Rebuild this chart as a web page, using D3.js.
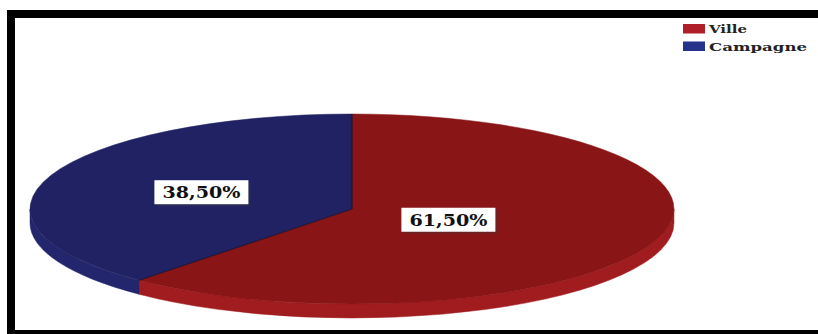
<!DOCTYPE html>
<html><head><meta charset="utf-8">
<script src="https://cdn.jsdelivr.net/npm/d3@7"></script>
<style>html,body{margin:0;padding:0;background:#fff;overflow:hidden}</style>
</head><body>
<svg id="c" width="818" height="334"></svg>
<script>
const categories = ["Ville", "Campagne"];
const values = [61.5, 38.5];
const valueLabels = ["61,50%", "38,50%"];

const topColors = ["#8a1517", "#212263"];
const sideColors = ["#a11c1f", "#23266c"];
const swatchColors = ["#b01e2a", "#26338a"];

const svg = d3.select("#c");
const cx = 352, cy = 209, rx = 322, ry = 95, depth = 14;

const pie = d3.pie().sort(null).value(d => d)(values);
const P = (a, dy = 0) => [cx + rx * Math.sin(a), cy - ry * Math.cos(a) + dy];

const g = svg.append("g");
pie.forEach((d, i) => {
  const s = Math.max(d.startAngle, Math.PI / 2), e = Math.min(d.endAngle, 3 * Math.PI / 2);
  if (e <= s) return;
  const p0 = P(s), p1 = P(e), q1 = P(e, depth), q0 = P(s, depth);
  const large = (e - s) > Math.PI ? 1 : 0;
  g.append("path")
    .attr("d", `M${p0}A${rx},${ry} 0 ${large} 1 ${p1}L${q1}A${rx},${ry} 0 ${large} 0 ${q0}Z`)
    .attr("fill", sideColors[i]).attr("stroke", sideColors[i]).attr("stroke-width", 0.5);
});
pie.forEach((d, i) => {
  const p0 = P(d.startAngle), p1 = P(d.endAngle);
  const large = (d.endAngle - d.startAngle) > Math.PI ? 1 : 0;
  g.append("path")
    .attr("d", `M${cx},${cy}L${p0}A${rx},${ry} 0 ${large} 1 ${p1}Z`)
    .attr("fill", topColors[i]).attr("stroke", topColors[i]).attr("stroke-width", 0.5);
});
pie.forEach(d => {
  g.append("line").attr("x1", cx).attr("y1", cy)
    .attr("x2", P(d.startAngle)[0]).attr("y2", P(d.startAngle)[1])
    .attr("stroke", "#1a0a20").attr("stroke-width", 1.2).attr("opacity", 0.6);
});

const kFactor = [0.32, 0.5];
pie.forEach((d, i) => {
  const m = (d.startAngle + d.endAngle) / 2;
  const x = cx + rx * kFactor[i] * Math.sin(m), y = cy - ry * kFactor[i] * Math.cos(m);
  const lg = g.append("g").attr("transform", `translate(${x},${y})`);
  lg.append("rect").attr("x", -45).attr("y", -10).attr("width", 94).attr("height", 24).attr("fill", "#3a3a3a").attr("opacity", 0.35);
  lg.append("rect").attr("x", -47).attr("y", -12).attr("width", 94).attr("height", 24).attr("fill", "#fff");
  lg.append("text").attr("x", 0).attr("y", 6).attr("text-anchor", "middle")
    .attr("font-family", "DejaVu Serif").attr("font-weight", "bold").attr("font-size", 16)
    .attr("textLength", 78).attr("lengthAdjust", "spacingAndGlyphs")
    .attr("fill", "#111").text(valueLabels[i]);
});

const leg = svg.append("g").attr("transform", "translate(683,24)");
categories.forEach((c, i) => {
  leg.append("rect").attr("x", 0).attr("y", i * 17.5).attr("width", 22).attr("height", 9.5).attr("fill", swatchColors[i]);
  leg.append("text").attr("x", 26).attr("y", i * 17.5 + 9)
    .attr("font-family", "DejaVu Serif").attr("font-weight", "bold").attr("font-size", 11)
    .attr("textLength", i === 0 ? 38 : 98).attr("lengthAdjust", "spacingAndGlyphs")
    .attr("fill", "#222").text(c);
});

svg.append("path").attr("d", "M822,14H11V334").attr("fill", "none").attr("stroke", "#000").attr("stroke-width", 8);
svg.append("line").attr("x1", 7).attr("x2", 822).attr("y1", 334).attr("y2", 334).attr("stroke", "#000").attr("stroke-width", 8);
</script>
</body></html>
